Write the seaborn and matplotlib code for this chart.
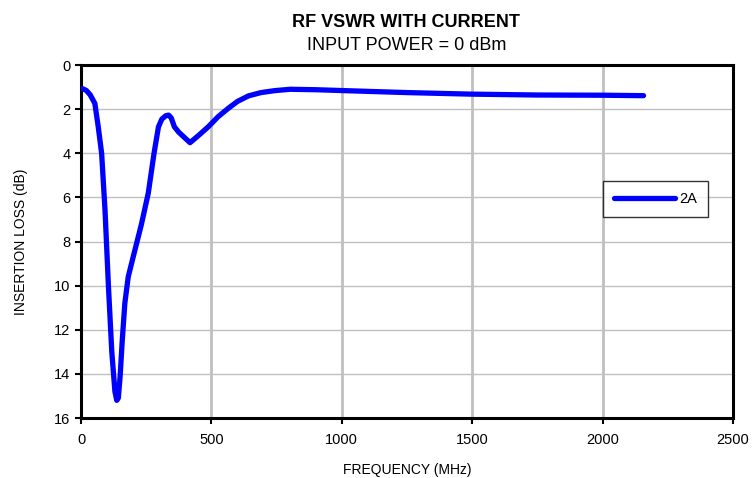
import numpy as np
import pandas as pd
import seaborn as sns
import matplotlib.pyplot as plt

# Values
freq_mhz = [3, 20, 35, 53, 66, 79, 92, 105, 118, 130, 137, 143, 150, 158, 168,
            181, 200, 232, 258, 280, 297, 310, 325, 336, 346, 358, 375, 418,
            450, 488, 525, 565, 600, 642, 690, 744, 802, 900, 1006,
            1250, 1495, 1750, 2005, 2157]
insertion_loss_db = [1.06, 1.15, 1.35, 1.74, 2.8, 4.0, 6.57, 10.0, 13.0, 14.8,
                     15.2, 15.1, 14.1, 12.5, 10.8, 9.6, 8.7, 7.2, 5.8, 4.0,
                     2.8, 2.45, 2.3, 2.27, 2.4, 2.8, 3.05, 3.52, 3.2, 2.8,
                     2.35, 1.96, 1.65, 1.4, 1.25, 1.16, 1.1, 1.12, 1.16,
                     1.25, 1.32, 1.36, 1.37, 1.39]
series_name = "2A"

x_ticks = [0, 500, 1000, 1500, 2000, 2500]
y_ticks = [0, 2, 4, 6, 8, 10, 12, 14, 16]

df = pd.DataFrame({"freq": freq_mhz, "loss": insertion_loss_db, "series": series_name})

sns.set_style("white")
plt.rcParams["font.family"] = ["Liberation Sans", "DejaVu Sans"]
plt.rcParams["text.color"] = "black"
plt.rcParams["axes.labelcolor"] = "black"

fig = plt.figure(figsize=(7.53, 4.78), dpi=100)
ax = fig.add_axes([0.1076, 0.1255, 0.8658, 0.7385])

# grid lines
for xv in x_ticks[1:-1]:
    ax.axvline(xv, color="#c0c0c0", lw=2.0, zorder=0)
for yv in y_ticks[1:-1]:
    ax.axhline(yv, color="#c0c0c0", lw=1.0, zorder=0)

sns.lineplot(data=df, x="freq", y="loss", hue="series", palette=["#0000ff"],
             estimator=None, sort=False, lw=3.8, ax=ax, zorder=3,
             solid_capstyle="round", solid_joinstyle="round")

ax.set_xlim(0, 2500)
ax.set_ylim(16, 0)
ax.set_xticks(x_ticks)
ax.set_yticks(y_ticks)
ax.tick_params(axis="both", direction="out", length=4, width=1.5, labelsize=10.5,
               colors="black", bottom=True, left=True)
ax.tick_params(axis="x", pad=7)
for s in ax.spines.values():
    s.set_color("black")
    s.set_linewidth(2.2)

ax.set_xlabel("FREQUENCY (MHz)", fontsize=10, labelpad=11)
ax.set_ylabel("INSERTION LOSS (dB)", fontsize=10, labelpad=19)

fig.text(0.5395, 0.953, "RF VSWR WITH CURRENT", ha="center", va="center",
         fontsize=13, fontweight="bold")
fig.text(0.5395, 0.905, "INPUT POWER = 0 dBm", ha="center", va="center", fontsize=13)

leg = ax.legend(loc="center", bbox_to_anchor=(0.881, 0.62), frameon=True,
                fancybox=False, edgecolor="black", fontsize=10.5,
                handlelength=4.2, borderpad=0.75, handletextpad=0.25,
                borderaxespad=0)
leg.get_frame().set_linewidth(1.0)
for h in leg.get_lines():
    h.set_linewidth(3.8)
    h.set_solid_capstyle("round")

fig.savefig("out.png", dpi=100)
